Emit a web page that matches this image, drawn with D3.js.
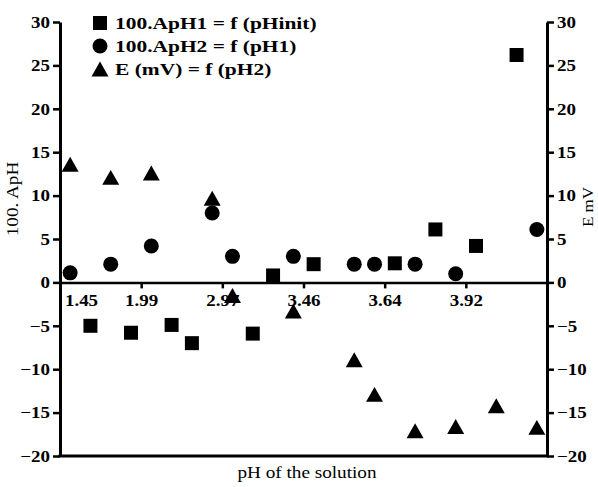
<!DOCTYPE html>
<html lang="en">
<head>
    <meta charset="UTF-8">
    <title>pH chart</title>
    <script src="https://d3js.org/d3.v7.min.js"></script>
</head>
<style>
    body {
      margin: 0;
      background: #fff;
    }
</style>
<body>
    <div id="chart"></div>

    <script>
        // x: 24 slots, a labelled tick every 4 slots
        const slotCount = 24;
        const xTickSlots = [0, 4, 8, 12, 16, 20];
        const xTickLabels = ["1.45", "1.99", "2.97", "3.46", "3.64", "3.92"];
        const yTicks = [-20, -15, -10, -5, 0, 5, 10, 15, 20, 25, 30];

        // 100.ApH1 = f (pHinit)  (squares)
        const squareSlots = [1, 3, 5, 6, 9, 10, 12, 16, 18, 20, 22];
        const squareValues = [-5.0, -5.8, -4.9, -7.0, -5.9, 0.8, 2.1, 2.2, 6.1, 4.2, 26.2];

        // 100.ApH2 = f (pH1)  (circles)
        const circleSlots = [0, 2, 4, 7, 8, 11, 14, 15, 17, 19, 23];
        const circleValues = [1.1, 2.1, 4.2, 8.0, 3.0, 3.0, 2.1, 2.1, 2.1, 1.0, 6.1];

        // E (mV) = f (pH2)  (triangles)
        const triangleSlots = [0, 2, 4, 7, 8, 11, 14, 15, 17, 19, 21, 23];
        const triangleValues = [13.6, 12.1, 12.6, 9.7, -1.5, -3.3, -8.9, -12.9, -17.1, -16.6, -14.2, -16.7];

        const width = 598, height = 487;
        const plot = {left: 60, right: 547, top: 22, bottom: 456};
        const font = "'Liberation Serif', 'Times New Roman', serif";
        const sx = 1.15; // the lettering in the figure is a bit wide

        const svg = d3.select("#chart").append("svg")
            .attr("width", width)
            .attr("height", height);

        const x = d3.scaleLinear().domain([0, slotCount]).range([plot.left, plot.right]);
        const y = d3.scaleLinear().domain([-20, 30]).range([plot.bottom, plot.top]);

        // stretch text horizontally around its anchor
        function stretch(sel) {
            sel.each(function() {
                const t = d3.select(this);
                const tx = +t.attr("x") || 0, ty = +t.attr("y") || 0;
                t.attr("x", 0).attr("y", 0)
                 .attr("transform", "translate(" + tx + "," + ty + ") scale(" + sx + ",1)");
            });
        }

        function styleAxis(g) {
            g.attr("font-family", font).attr("font-size", 16.5).attr("font-weight", "bold");
            g.select(".domain").attr("stroke-width", 3);
            g.selectAll(".tick line").attr("stroke-width", 2.5);
            g.selectAll("text").attr("fill", "#000");
        }

        // left axis
        const gl = svg.append("g")
            .attr("transform", "translate(" + plot.left + ",0)")
            .call(d3.axisLeft(y).tickValues(yTicks).tickSize(7).tickSizeOuter(0).tickPadding(3));
        styleAxis(gl);
        stretch(gl.selectAll("text"));

        // right axis
        const gr = svg.append("g")
            .attr("transform", "translate(" + plot.right + ",0)")
            .call(d3.axisRight(y).tickValues(yTicks).tickSize(7).tickSizeOuter(0).tickPadding(3));
        styleAxis(gr);
        stretch(gr.selectAll("text"));

        // bottom frame line
        const gb = svg.append("g")
            .attr("transform", "translate(0," + plot.bottom + ")")
            .call(d3.axisBottom(x).tickValues([]).tickSizeOuter(0));
        styleAxis(gb);
        gb.select(".domain").attr("d", "M" + (plot.left - 1.5) + ",0H" + (plot.right + 1.5));

        // x axis through zero
        const gx = svg.append("g")
            .attr("transform", "translate(0," + y(0) + ")")
            .call(d3.axisBottom(x).tickValues(xTickSlots)
                .tickFormat((d, i) => xTickLabels[i])
                .tickSize(6).tickSizeOuter(0).tickPadding(6));
        styleAxis(gx);
        gx.select(".domain").attr("stroke-width", 2.5);
        // first label sits to the right of the left axis
        gx.selectAll(".tick text").attr("x", (d, i) => i === 0 ? 21 : 0);
        stretch(gx.selectAll("text"));

        // triangle centred on its bounding box
        const triangle = {
            draw(ctx, size) {
                const w = Math.sqrt(size), h = w * 0.88;
                ctx.moveTo(0, -h / 2);
                ctx.lineTo(w / 2, h / 2);
                ctx.lineTo(-w / 2, h / 2);
                ctx.closePath();
            }
        };

        const squareSym = d3.symbol().type(d3.symbolSquare).size(196);
        const circleSym = d3.symbol().type(d3.symbolCircle).size(177);
        const triangleSym = d3.symbol().type(triangle).size(289);

        const mid = s => x(s + 0.5);

        svg.selectAll(".sq")
            .data(squareSlots.map((s, i) => ({ s, v: squareValues[i] })))
            .enter().append("path")
            .attr("class", "sq")
            .attr("d", squareSym)
            .attr("transform", d => "translate(" + mid(d.s) + "," + y(d.v) + ")")
            .attr("fill", "#000");

        svg.selectAll(".ci")
            .data(circleSlots.map((s, i) => ({ s, v: circleValues[i] })))
            .enter().append("path")
            .attr("class", "ci")
            .attr("d", circleSym)
            .attr("transform", d => "translate(" + mid(d.s) + "," + y(d.v) + ")")
            .attr("fill", "#000");

        svg.selectAll(".tr")
            .data(triangleSlots.map((s, i) => ({ s, v: triangleValues[i] })))
            .enter().append("path")
            .attr("class", "tr")
            .attr("d", triangleSym)
            .attr("transform", d => "translate(" + mid(d.s) + "," + y(d.v) + ")")
            .attr("fill", "#000");

        // legend
        const legend = [
            { sym: squareSym, label: "100.ApH1 = f (pHinit)" },
            { sym: circleSym, label: "100.ApH2 = f (pH1)" },
            { sym: triangleSym, label: "E (mV) = f (pH2)" }
        ];
        const lg = svg.append("g");
        legend.forEach((d, i) => {
            const cy = 23 + i * 23;
            lg.append("path").attr("d", d.sym)
                .attr("transform", "translate(100," + cy + ")")
                .attr("fill", "#000");
            lg.append("text")
                .attr("transform", "translate(115," + (cy + 5.5) + ") scale(1.3,1)")
                .attr("font-family", font).attr("font-size", 16.5).attr("font-weight", "bold")
                .text(d.label);
        });

        // axis titles
        svg.append("text")
            .attr("transform", "translate(18,199) rotate(-90) scale(1.2,1)")
            .attr("text-anchor", "middle")
            .attr("font-family", font).attr("font-size", 16)
            .text("100. ApH");

        svg.append("text")
            .attr("transform", "translate(593,207) rotate(-90) scale(1.1,1)")
            .attr("text-anchor", "middle")
            .attr("font-family", font).attr("font-size", 15.5)
            .text("E mV");

        svg.append("text")
            .attr("transform", "translate(307,478) scale(1.2,1)")
            .attr("text-anchor", "middle")
            .attr("font-family", font).attr("font-size", 16)
            .text("pH of the solution");
    </script>
</body>
</html>
